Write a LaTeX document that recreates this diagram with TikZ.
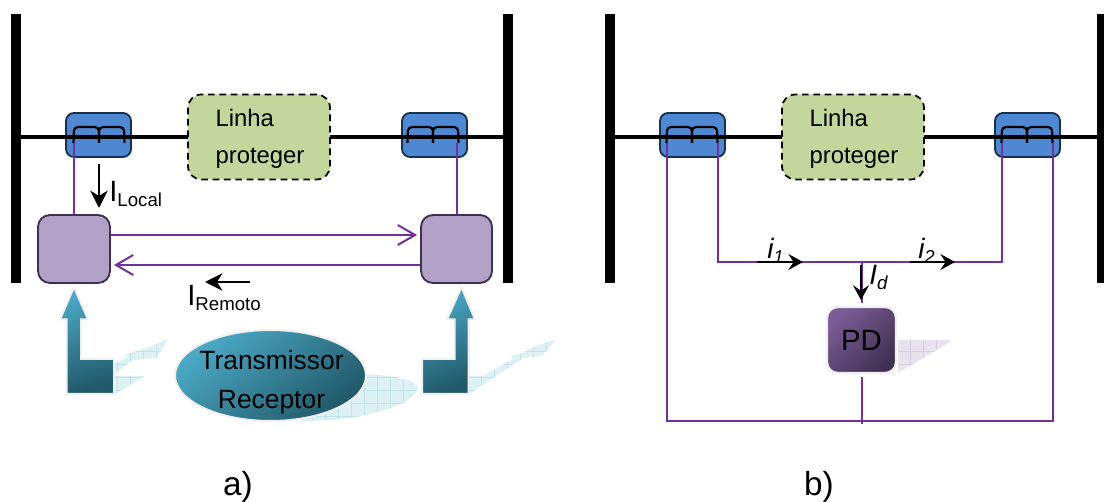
\documentclass[tikz,border=0pt]{standalone}
\usepackage{fontspec}
\setmainfont{Liberation Sans}
\usetikzlibrary{arrows.meta,shapes.geometric,calc}
\definecolor{wirepurple}{HTML}{7030A0}
\definecolor{breakerblue}{HTML}{4F88D2}
\definecolor{breakeredge}{HTML}{17324F}
\definecolor{linegreen}{HTML}{C3D69B}
\definecolor{relaylilac}{HTML}{B2A1C7}
\definecolor{relayedge}{HTML}{3F3151}
\definecolor{tealhi}{HTML}{4BA9C6}
\definecolor{teallo}{HTML}{215968}
\definecolor{violethi}{HTML}{7B5C97}
\definecolor{violetlo}{HTML}{403152}
\definecolor{halo}{HTML}{F0F0F0}
\definecolor{tealshadow}{HTML}{DDF0F4}
\definecolor{tealgrid}{HTML}{BFE3EA}
\definecolor{violetshadow}{HTML}{E8E2EF}
\definecolor{violetgrid}{HTML}{D6CCE2}
\tikzset{
  x=0.75pt, y=-0.75pt,
  size/.style 2 args={minimum width=#1*0.75pt, minimum height=#2*0.75pt, inner sep=0pt},
  busbar/.style={fill=black, rectangle, size={10}{269}},
  busline/.style={line width=3pt, black},
  breaker/.style={rectangle, rounded corners=6pt, fill=breakerblue, draw=breakeredge, line width=1.4pt, size={65}{44}},
  ctcoil/.style={line width=1.6pt, black, rounded corners=3pt},
  protected/.style={rectangle, rounded corners=10pt, fill=linegreen, draw=black, dashed, dash pattern=on 5pt off 3.5pt, line width=1.3pt, size={142}{85}},
  sectiontext/.style={inner sep=0pt, align=left, font=\fontsize{17.9}{27.7}\selectfont},
  relay/.style={rectangle, rounded corners=9pt, fill=relaylilac, draw=relayedge, line width=1.4pt, size={#1}{68}},
  wire/.style={line width=1.5pt, wirepurple},
  openhead/.style={-{Straight Barb[length=13pt,width=15pt,line width=1.5pt]}},
  flow/.style={line width=1.9pt, black, -{Stealth[length=13pt,width=13pt,inset=4pt]}},
  flowsmall/.style={line width=1.5pt, black, -{Stealth[length=11pt,width=12pt,inset=4pt]}},
  label/.style={inner sep=0pt, font=\fontsize{22}{22}\selectfont},
  tealgrad/.style={shading=axis, top color=tealhi, bottom color=teallo, shading angle=#1},
}
\newcommand{\subs}[1]{\raisebox{-0.15em}{\fontsize{14}{14}\selectfont #1}}
% breaker box; #1 name, #2 left edge
\newcommand{\breakerbox}[2]{%
  \node[breaker] (#1) at (#2+32.5,135) {};
}
% current transformer drawn over the line; #1 breaker name, #2 left edge
\newcommand{\ctsymbol}[2]{%
  \coordinate (#1-l) at (#2+7.5,143);
  \coordinate (#1-m) at (#2+33,143);
  \coordinate (#1-r) at (#2+58.5,143);
  \draw[ctcoil] (#1-l) -- (#2+8,127) -- (#2+33,127) -- (#1-m);
  \draw[ctcoil] (#1-m) -- (#2+33,127) -- (#2+58,127) -- (#1-r);
}
% pale hatched cast shadow: #1 path, #2 fill colour, #3 grid colour
\newcommand{\castshadow}[3]{%
  \begin{scope}
    \clip #1;
    \fill[#2] (0,280) rectangle (1104,440);
    \foreach \gx in {0,13,...,1104} \draw[#3, line width=0.4pt] (\gx,280) -- (\gx,440);
    \foreach \gy in {286,299,...,440} \draw[#3, line width=0.4pt] (0,\gy) -- (1104,\gy);
  \end{scope}
}
\begin{document}
\begin{tikzpicture}
\useasboundingbox (0,0) rectangle (1104,502);

% bus bars
\node[busbar] (busA1) at (16,148.5) {};
\node[busbar] (busA2) at (508,148.5) {};
\node[busbar] (busB1) at (610,148.5) {};
\node[busbar, size={7}{269}] (busB2) at (1100.5,148.5) {};

% breakers
\breakerbox{brA1}{66}
\breakerbox{brA2}{402}
\breakerbox{brB1}{660}
\breakerbox{brB2}{995}

% protected line sections
\coordinate (tieA) at (259,137);
\coordinate (tieB) at (853,137);
\draw[busline] (busA1.east |- tieA) -- (busA2.west |- tieA);
\draw[busline] (busB1.east |- tieB) -- (busB2.west |- tieB);
\node[protected] (lineA) at (tieA) {};
\node[protected] (lineB) at (tieB) {};
\node[sectiontext] (lineAtext) at (260,139) {Linha\\proteger};
\node[sectiontext] (lineBtext) at (854,139) {Linha\\proteger};

\ctsymbol{brA1}{66}
\ctsymbol{brA2}{400}
\ctsymbol{brB1}{659}
\ctsymbol{brB2}{994}

% panel a: relays and pilot channel
\node[relay=72] (relL) at (74,249) {};
\node[relay=71] (relR) at (456.5,249) {};
\draw[wire] (brA1-l) -- (brA1-l |- relL.north);
\draw[wire] (relR.north) -- (relR.north |- brA2-r);
\coordinate (chanOut) at (relL.east |- 0,235);
\coordinate (chanOutEnd) at ($(relR.west |- 0,235)+(-3,0)$);
\draw[wire, openhead] (chanOut) -- (chanOutEnd);
\coordinate (chanIn) at (relR.west |- 0,265);
\coordinate (chanInEnd) at ($(relL.east |- 0,265)+(3,0)$);
\draw[wire, openhead] (chanIn) -- (chanInEnd);

\coordinate (iLs) at (99,164);
\coordinate (iLe) at (99,208);
\draw[flow] (iLs) -- (iLe);
\node[label, anchor=base west] (iLocal) at (109,202) {I\subs{Local}};
\coordinate (iRs) at (250,282);
\coordinate (iRe) at (205,282);
\draw[flow] (iRs) -- (iRe);
\node[label, anchor=base west] (iRemoto) at (187,306) {I\subs{Remoto}};

% cast shadows under the teal shapes
\castshadow{(113,365) -- (128,356) -- (124,355) -- (147,348) -- (168,339) -- (157,358) -- (133,360) -- (113,375) -- cycle}{tealshadow}{tealgrid}
\castshadow{(113,376) -- (145,376) -- (117,393) -- (113,393) -- cycle}{tealshadow}{tealgrid}
\castshadow{(468,376) -- (483,376) -- (513,359) -- (510,356) -- (523,353) -- (533,347) -- (557,339) -- (542,356) -- (523,358) -- (471,393) -- (468,393) -- cycle}{tealshadow}{tealgrid}
\castshadow{(300,421) .. controls (360,422) and (417,405) .. (417,388) .. controls (417,380) and (395,374) .. (350,374) -- cycle}{tealshadow}{tealgrid}

% teal block arrows into the relays
\draw[halo, line width=1.5pt, tealgrad=15] (74,287) -- (88,319.5) -- (81,319.5) -- (81,359) -- (114,359) -- (114,394) -- (66.5,394) -- (66.5,319.5) -- (60,319.5) -- cycle;
\draw[halo, line width=1.5pt, tealgrad=25] (461.5,287) -- (475,319.5) -- (468.5,319.5) -- (468.5,394) -- (422,394) -- (422,359) -- (454.5,359) -- (454.5,319.5) -- (447,319.5) -- cycle;

% transceiver
\node[ellipse, size={191}{91}, draw=halo, line width=1.5pt, tealgrad=40] (trx) at (270.5,375.5) {};
\node[inner sep=0pt, align=center, font=\fontsize{19.8}{29.5}\selectfont] (trxtext) at (271.5,382.5) {Transmissor\\Receptor};

% panel b: differential wiring
\node[rectangle, rounded corners=8pt, size={69}{66}, draw=halo, line width=1.8pt, shading=axis, top color=violethi, bottom color=violetlo, shading angle=45, font=\fontsize{22}{22}\selectfont] (pd) at (861.5,340) {PD};
\castshadow{(898,340) -- (948,340) -- (950,342) -- (905,369) -- (898,372) -- cycle}{violetshadow}{violetgrid}

\coordinate (jTop) at (pd.north |- 0,262);
\coordinate (jBot) at (pd.south |- 0,421);
\coordinate (corner1) at (brB1-r |- 0,262);
\coordinate (corner2) at (brB2-l |- 0,262);
\coordinate (corner3) at (brB1-l |- 0,421);
\coordinate (corner4) at (brB2-r |- 0,421);
\draw[wire] (brB1-r) -- (corner1) -- (corner2) -- (brB2-l);
\draw[wire] (brB1-l) -- (corner3) -- (corner4) -- (brB2-r);
\draw[wire] (jTop) -- ($(pd.north)+(0,-3)$);
\draw[wire] ($(pd.south)+(0,3)$) -- ($(jBot)+(0,3)$);

\coordinate (i1s) at (757,262);
\coordinate (i1e) at (803,262);
\draw[flowsmall] (i1s) -- (i1e);
\coordinate (i2s) at (910,262);
\coordinate (i2e) at (955,262);
\draw[flowsmall] (i2s) -- (i2e);
\coordinate (ids) at (861,265);
\coordinate (ide) at (861,300);
\draw[flowsmall] (ids) -- (ide);
\node[label, anchor=base west, font=\fontsize{21}{21}\selectfont\itshape] (li1) at (767,259) {i\subs{1}};
\node[label, anchor=base west, font=\fontsize{21}{21}\selectfont\itshape] (li2) at (918,259) {i\subs{2}};
\node[label, anchor=base west, font=\fontsize{21}{21}\selectfont\itshape] (lid) at (869,285) {I\subs{d}};

% panel captions
\node[label, anchor=base, font=\fontsize{25}{25}\selectfont] (capA) at (238,495) {a)};
\node[label, anchor=base, font=\fontsize{25}{25}\selectfont] (capB) at (819,495) {b)};
\end{tikzpicture}
\end{document}
